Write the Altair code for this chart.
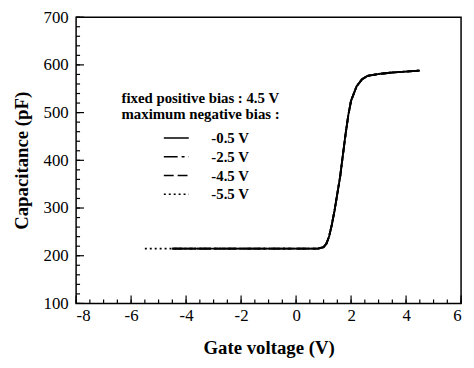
import altair as alt
import pandas as pd

# gate voltage (V) and capacitance (pF)
volts = [-5.5, -4.5, -2.5, -0.5, 0.8, 1.0, 1.1, 1.2, 1.3, 1.4, 1.5, 1.6, 1.7, 1.8, 1.9, 2.0, 2.2, 2.4, 2.6, 3.0, 3.5, 4.0, 4.5]
cap = [215, 215, 215, 215, 215, 218, 225, 240, 265, 295, 330, 365, 410, 455, 495, 525, 555, 570, 577, 581, 584, 586, 588]

series = ["-0.5 V", "-2.5 V", "-4.5 V", "-5.5 V"]
starts = [-4.5, -4.5, -4.5, -5.5]
dashes = [[1, 0], [14, 4, 3, 4], [10, 4], [2, 3]]
draw_order = [3, 2, 1, 0]

rows = []
for name, s, order in zip(series, starts, draw_order):
    for v, c in zip(volts, cap):
        if v >= s - 1e-9:
            rows.append({"bias": name, "V": v, "C": c, "o": order})
df = pd.DataFrame(rows)

x_ticks_major = list(range(-8, 7, 2))
x_ticks_minor = [x / 2 for x in range(-16, 13)]
y_ticks_major = list(range(100, 701, 100))
y_ticks_minor = list(range(100, 701, 20))

W, H = 390, 290
FONT = "Liberation Serif"

xs = alt.Scale(domain=[-8, 6], nice=False)
ys = alt.Scale(domain=[100, 700], nice=False)
x_axis = alt.Axis(values=x_ticks_major, ticks=False, title="Gate voltage (V)",
                  labelExpr="datum.value", labelPadding=4, titlePadding=16,
                  grid=False, domain=False)
y_axis = alt.Axis(values=y_ticks_major, ticks=False, title="Capacitance (pF)",
                  labelExpr="datum.value", labelPadding=8, titlePadding=12,
                  grid=False, domain=False)

lines = alt.Chart(df).mark_line(strokeWidth=1.9, color="black").encode(
    x=alt.X("V:Q", scale=xs, axis=x_axis),
    y=alt.Y("C:Q", scale=ys, axis=y_axis),
    strokeDash=alt.StrokeDash("bias:N", sort=series,
                              scale=alt.Scale(domain=series, range=dashes),
                              legend=alt.Legend(
                                  orient="none", legendX=46, legendY=75,
                                  title=["fixed positive bias : 4.5 V", "maximum negative bias :"],
                                  titleFont=FONT, titleFontSize=15, titleFontWeight="bold",
                                  titleColor="black", titleLineHeight=16, titlePadding=6,
                                  labelFont=FONT, labelFontSize=15, labelFontWeight="bold",
                                  labelColor="black", symbolType="M-1.35,0H1.35", symbolSize=350,
                                  symbolStrokeColor="black", symbolStrokeWidth=1.5,
                                  symbolOffset=45, labelOffset=25, rowPadding=0,
                                  padding=0)),
    order=alt.Order("o:Q"),
    detail="bias:N",
)

xt_minor = pd.DataFrame({"V": x_ticks_minor})
xt_major = pd.DataFrame({"V": x_ticks_major})
yt_minor = pd.DataFrame({"C": y_ticks_minor})
yt_major = pd.DataFrame({"C": y_ticks_major})

xminor = alt.Chart(xt_minor).mark_rule(color="black", strokeWidth=1.2).encode(
    x=alt.X("V:Q", scale=xs, axis=x_axis), y=alt.value(H), y2=alt.value(H - 4))
xmajor = alt.Chart(xt_major).mark_rule(color="black", strokeWidth=1.2).encode(
    x=alt.X("V:Q", scale=xs, axis=x_axis), y=alt.value(H), y2=alt.value(H - 8))
yminor = alt.Chart(yt_minor).mark_rule(color="black", strokeWidth=1.2).encode(
    y=alt.Y("C:Q", scale=ys, axis=y_axis), x=alt.value(0), x2=alt.value(4))
ymajor = alt.Chart(yt_major).mark_rule(color="black", strokeWidth=1.2).encode(
    y=alt.Y("C:Q", scale=ys, axis=y_axis), x=alt.value(0), x2=alt.value(8))

chart = alt.layer(lines, xminor, xmajor, yminor, ymajor).properties(
    width=W, height=H,
    background="white",
    autosize=alt.AutoSizeParams(type="none"),
    padding={"left": 69, "top": 7, "right": 5, "bottom": 55},
).configure_view(stroke="black", strokeWidth=1.5).configure_axis(
    labelFont=FONT, labelFontSize=17, labelColor="black",
    titleFont=FONT, titleFontSize=19, titleFontWeight="bold", titleColor="black",
)

chart.save("out.html", embed_options={"renderer": "svg", "actions": False})
